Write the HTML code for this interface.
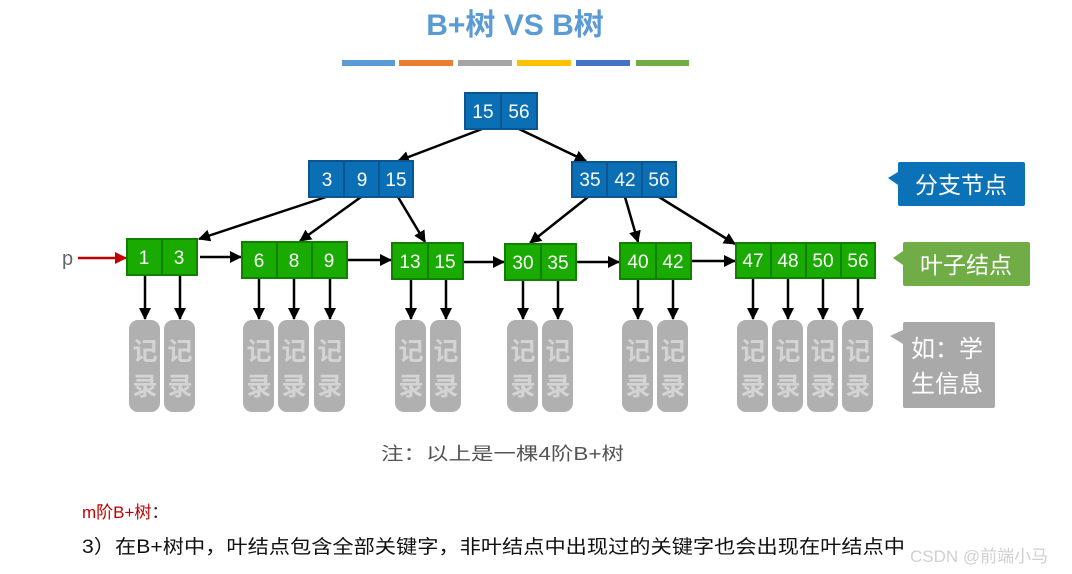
<!DOCTYPE html>
<html><head><meta charset="utf-8"><style>
html,body{margin:0;padding:0;background:#fff;}
svg{display:block;}
text{font-family:"Liberation Sans","Noto Sans CJK SC",sans-serif;}
</style></head><body>
<svg width="1072" height="574" viewBox="0 0 1072 574" xmlns="http://www.w3.org/2000/svg">
<defs>
<marker id="ah" markerWidth="12" markerHeight="12" refX="11" refY="6" orient="auto" markerUnits="userSpaceOnUse"><path d="M0,0 L12,6 L0,12 Z" fill="#000"/></marker>
<marker id="ahr" markerWidth="12" markerHeight="12" refX="11" refY="6" orient="auto" markerUnits="userSpaceOnUse"><path d="M0,0 L12,6 L0,12 Z" fill="#c00000"/></marker>
</defs>
<text x="515" y="35" text-anchor="middle" font-size="30" font-weight="bold" fill="#5b9bd5">B+树 VS B树</text>
<g>
<rect x="342" y="60" width="53" height="6" fill="#5b9bd5"/>
<rect x="399" y="60" width="54" height="6" fill="#ed7d31"/>
<rect x="458" y="60" width="54" height="6" fill="#a5a5a5"/>
<rect x="517" y="60" width="54" height="6" fill="#ffc000"/>
<rect x="576" y="60" width="54" height="6" fill="#4472c4"/>
<rect x="636" y="60" width="53" height="6" fill="#70ad47"/>
</g>
<g stroke="#000" stroke-width="2.5" fill="none" marker-end="url(#ah)">
<line x1="482" y1="129" x2="398" y2="161"/>
<line x1="519" y1="129" x2="586" y2="161"/>
<line x1="326" y1="197" x2="199" y2="239"/>
<line x1="361" y1="197" x2="300" y2="241"/>
<line x1="398" y1="197" x2="425" y2="242"/>
<line x1="588" y1="197" x2="530" y2="243"/>
<line x1="625" y1="197" x2="638" y2="242"/>
<line x1="659" y1="197" x2="735" y2="244"/>
<line x1="200" y1="257" x2="241" y2="257"/>
<line x1="348" y1="260" x2="391" y2="260"/>
<line x1="464" y1="262" x2="504" y2="262"/>
<line x1="577" y1="262" x2="619" y2="262"/>
<line x1="692" y1="261" x2="735" y2="261"/>
</g>
<text x="62" y="265" font-size="20" fill="#666">p</text>
<line x1="78" y1="258" x2="126" y2="258" stroke="#c00000" stroke-width="2.5" marker-end="url(#ahr)"/>
<g fill="#0b6fb5" stroke="#0d5590" stroke-width="2">
<rect x="465" y="93" width="36" height="36"/><rect x="501" y="93" width="36" height="36"/>
<rect x="309" y="161" width="35" height="36"/><rect x="344" y="161" width="35" height="36"/><rect x="379" y="161" width="34" height="36"/>
<rect x="572" y="162" width="35" height="35"/><rect x="607" y="162" width="35" height="35"/><rect x="642" y="162" width="34" height="35"/>
</g>
<g fill="#fff" font-size="19" text-anchor="middle">
<text x="483" y="118">15</text><text x="519" y="118">56</text>
<text x="327" y="186">3</text><text x="362" y="186">9</text><text x="396" y="186">15</text>
<text x="590" y="186">35</text><text x="625" y="186">42</text><text x="659" y="186">56</text>
</g>
<g fill="#1aab00" stroke="#118000" stroke-width="2">
<rect x="127" y="239" width="35" height="36"/><rect x="162" y="239" width="35" height="36"/>
<rect x="242" y="242" width="35" height="36"/><rect x="277" y="242" width="35" height="36"/><rect x="312" y="242" width="35" height="36"/>
<rect x="392" y="243" width="36" height="36"/><rect x="428" y="243" width="35" height="36"/>
<rect x="505" y="244" width="36" height="36"/><rect x="541" y="244" width="35" height="36"/>
<rect x="620" y="243" width="36" height="36"/><rect x="656" y="243" width="35" height="36"/>
<rect x="736" y="243" width="35" height="35"/><rect x="771" y="243" width="35" height="35"/><rect x="806" y="243" width="35" height="35"/><rect x="841" y="243" width="34" height="35"/>
</g>
<g fill="#fff" font-size="19" text-anchor="middle">
<text x="144" y="264">1</text><text x="179" y="264">3</text>
<text x="259" y="267">6</text><text x="294" y="267">8</text><text x="329" y="267">9</text>
<text x="410" y="268">13</text><text x="445" y="268">15</text>
<text x="523" y="269">30</text><text x="558" y="269">35</text>
<text x="638" y="268">40</text><text x="673" y="268">42</text>
<text x="753" y="267">47</text><text x="788" y="267">48</text><text x="823" y="267">50</text><text x="858" y="267">56</text>
</g>
<g stroke="#000" stroke-width="2.5" marker-end="url(#ah)">
<line x1="145" y1="276" x2="145" y2="319"/><line x1="180" y1="276" x2="180" y2="319"/>
<line x1="259" y1="279" x2="259" y2="319"/><line x1="294" y1="279" x2="294" y2="319"/><line x1="330" y1="279" x2="330" y2="319"/>
<line x1="411" y1="280" x2="411" y2="319"/><line x1="446" y1="280" x2="446" y2="319"/>
<line x1="523" y1="281" x2="523" y2="319"/><line x1="558" y1="281" x2="558" y2="319"/>
<line x1="638" y1="280" x2="638" y2="319"/><line x1="673" y1="280" x2="673" y2="319"/>
<line x1="753" y1="279" x2="753" y2="319"/><line x1="788" y1="279" x2="788" y2="319"/><line x1="823" y1="279" x2="823" y2="319"/><line x1="858" y1="279" x2="858" y2="319"/>
</g>
<g fill="#b0b0b0">
<rect x="129" y="320" width="31" height="92" rx="9"/><rect x="164" y="320" width="31" height="92" rx="9"/>
<rect x="243" y="320" width="31" height="92" rx="9"/><rect x="278" y="320" width="31" height="92" rx="9"/><rect x="314" y="320" width="31" height="92" rx="9"/>
<rect x="395" y="320" width="31" height="92" rx="9"/><rect x="430" y="320" width="31" height="92" rx="9"/>
<rect x="507" y="320" width="31" height="92" rx="9"/><rect x="542" y="320" width="31" height="92" rx="9"/>
<rect x="622" y="320" width="31" height="92" rx="9"/><rect x="657" y="320" width="31" height="92" rx="9"/>
<rect x="737" y="320" width="31" height="92" rx="9"/><rect x="772" y="320" width="31" height="92" rx="9"/><rect x="807" y="320" width="31" height="92" rx="9"/><rect x="842" y="320" width="31" height="92" rx="9"/>
</g>
<g fill="#d4d4d4" font-size="25" text-anchor="middle" font-weight="bold">
<text x="145" y="360">记</text><text x="145" y="395">录</text><text x="180" y="360">记</text><text x="180" y="395">录</text>
<text x="259" y="360">记</text><text x="259" y="395">录</text><text x="294" y="360">记</text><text x="294" y="395">录</text><text x="330" y="360">记</text><text x="330" y="395">录</text>
<text x="411" y="360">记</text><text x="411" y="395">录</text><text x="446" y="360">记</text><text x="446" y="395">录</text>
<text x="523" y="360">记</text><text x="523" y="395">录</text><text x="558" y="360">记</text><text x="558" y="395">录</text>
<text x="638" y="360">记</text><text x="638" y="395">录</text><text x="673" y="360">记</text><text x="673" y="395">录</text>
<text x="753" y="360">记</text><text x="753" y="395">录</text><text x="788" y="360">记</text><text x="788" y="395">录</text><text x="823" y="360">记</text><text x="823" y="395">录</text><text x="858" y="360">记</text><text x="858" y="395">录</text>
</g>
<path d="M898,164 Q898,162 900,162 L1023,162 Q1025,162 1025,164 L1025,204 Q1025,206 1023,206 L900,206 Q898,206 898,204 L898,185 L888,178 L898,172 Z" fill="#0b72b8"/>
<text x="961" y="193" text-anchor="middle" font-size="23" fill="#fff">分支节点</text>
<path d="M903,244 Q903,242 905,242 L1028,242 Q1030,242 1030,244 L1030,284 Q1030,286 1028,286 L905,286 Q903,286 903,284 L903,265 L893,258 L903,251 Z" fill="#70ad47"/>
<text x="966" y="273" text-anchor="middle" font-size="23" fill="#fff">叶子结点</text>
<path d="M903,324 Q903,322 905,322 L993,322 Q995,322 995,324 L995,406 Q995,408 993,408 L905,408 Q903,408 903,406 L903,344 L890,336 L903,330 Z" fill="#a9a9a9"/>
<text x="911" y="357" font-size="24" fill="#fff">如：学</text>
<text x="911" y="392" font-size="24" fill="#fff">生信息</text>
<text x="381" y="460" font-size="18" fill="#555" textLength="243" lengthAdjust="spacingAndGlyphs">注：以上是一棵4阶B+树</text>
<text x="82" y="518" font-size="17" fill="#c00000">m阶B+树<tspan fill="#222">：</tspan></text>
<text x="82" y="553" font-size="19" fill="#111" textLength="823" lengthAdjust="spacingAndGlyphs">3）在B+树中，叶结点包含全部关键字，非叶结点中出现过的关键字也会出现在叶结点中</text>
<text x="910" y="562" font-size="17" fill="#d0d0d0">CSDN @前端小马</text>
</svg>
</body></html>
